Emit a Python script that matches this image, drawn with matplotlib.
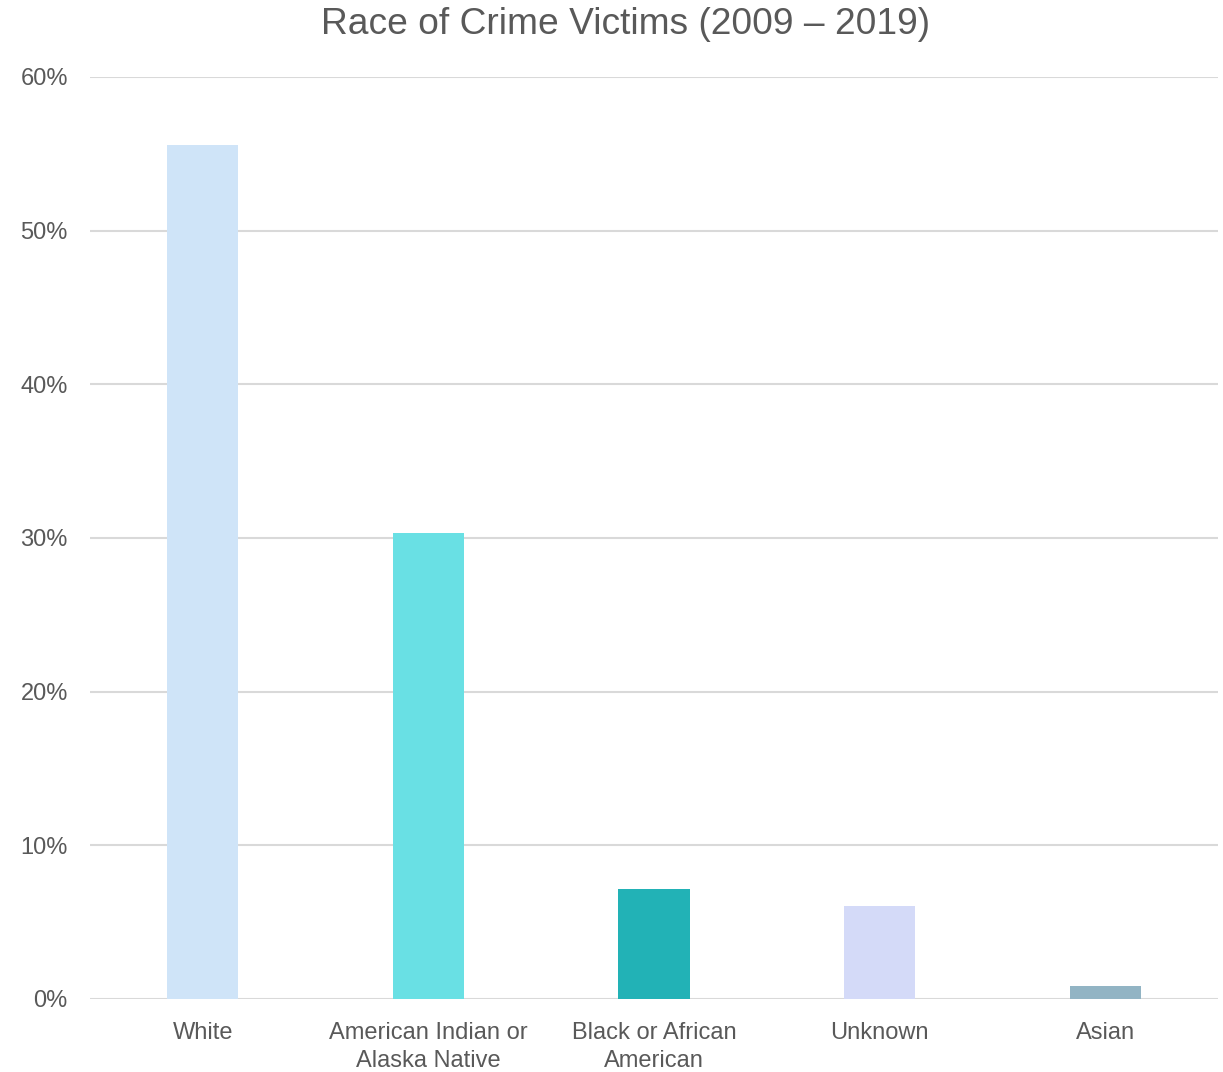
import matplotlib.pyplot as plt
from matplotlib.ticker import FuncFormatter

plt.rcParams['font.family'] = ['Liberation Sans', 'DejaVu Sans']

categories = ['White', 'American Indian or\nAlaska Native', 'Black or African\nAmerican', 'Unknown', 'Asian']
values = [55.6, 30.3, 7.15, 6.05, 0.85]
colors = ['#cfe4f8', '#69e0e4', '#22b2b6', '#d4daf8', '#92b4c4']

fig = plt.figure(figsize=(12.23, 10.72), dpi=100)
ax = fig.add_axes([0.0736, 0.0681, 0.9223, 0.8601])

x = range(len(categories))
ax.bar(x, values, width=0.315, color=colors, zorder=3)

ax.set_xlim(-0.5, len(categories) - 0.5)
ax.set_ylim(0, 60)
ax.set_yticks(range(0, 61, 10))
ax.yaxis.set_major_formatter(FuncFormatter(lambda v, p: '%d%%' % v))
ax.grid(axis='y', color='#d9d9d9', linewidth=1.5, zorder=0)
ax.set_xticks(list(x))
ax.set_xticklabels(categories, linespacing=1.36)

for s in ax.spines.values():
    s.set_visible(False)
ax.tick_params(length=0, labelsize=17, colors='#595959')
ax.tick_params(axis='y', pad=16)
ax.tick_params(axis='x', pad=16.5)

# title sits a bit right of the figure centre in the original
fig.text(0.5114, 1 - 24 / 1072, 'Race of Crime Victims (2009 – 2019)', fontsize=26.7,
         color='#595959', ha='center', va='center')

fig.savefig('out.png', dpi=100)
